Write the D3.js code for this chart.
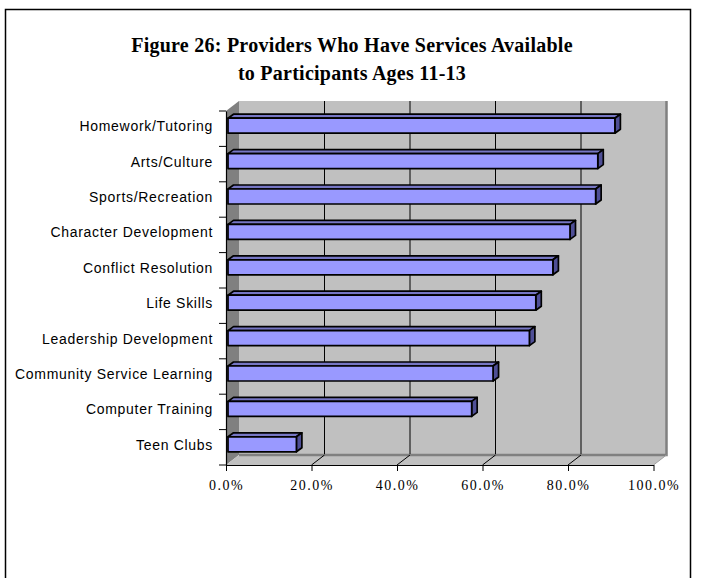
<!DOCTYPE html>
<html>
<head>
<meta charset="utf-8">
<script src="https://cdn.jsdelivr.net/npm/d3@7"></script>
<style>
  html, body { margin: 0; padding: 0; background: #fff; }
  svg { display: block; }
</style>
</head>
<body>
<svg id="chart" width="703" height="578"></svg>
<script>
// Survey results: share of providers offering each service to ages 11-13
const categories = [
  "Homework/Tutoring",
  "Arts/Culture",
  "Sports/Recreation",
  "Character Development",
  "Conflict Resolution",
  "Life Skills",
  "Leadership Development",
  "Community Service Learning",
  "Computer Training",
  "Teen Clubs"
];
const values = [90.5, 86.5, 86.0, 80.0, 76.0, 72.0, 70.5, 62.0, 57.0, 16.0];
const xTicks = [0, 20, 40, 60, 80, 100];
const titleLines = [
  "Figure 26: Providers Who Have Services Available",
  "to Participants Ages 11-13"
];

const svg = d3.select("#chart");

// chart frame
svg.append("rect")
  .attr("x", 5.5).attr("y", 9.5)
  .attr("width", 685).attr("height", 620)
  .attr("fill", "#fff").attr("stroke", "#000").attr("stroke-width", 1.5);

// title
svg.append("g").selectAll("text")
  .data(titleLines)
  .join("text")
  .attr("x", 352)
  .attr("y", (d, i) => 52 + i * 28)
  .attr("text-anchor", "middle")
  .attr("font-family", "'Liberation Serif', 'Times New Roman', serif")
  .attr("font-weight", "bold")
  .attr("font-size", 20)
  .attr("letter-spacing", 0.25)
  .text(d => d);

// 3-D plot geometry: front plane plus a receding depth offset
const x = d3.scaleLinear().domain([0, 100]).range([226, 653.5]);
const y = d3.scaleBand().domain(categories).range([111, 465]);
const DX = 13, DY = 10;        // wall depth
const BX = 2, BY = -3;         // bar front plane offset
const BDX = 5.5, BDY = 4;      // bar depth
const barH = 15;

const [yTop, yBot] = y.range();
const x0 = x(0), x1 = x(100);

const walls = svg.append("g");
// side wall
walls.append("polygon")
  .attr("points", [[x0, yTop], [x0 + DX, yTop - DY], [x0 + DX, yBot - DY], [x0, yBot]].join(" "))
  .attr("fill", "#808080");
// back wall
walls.append("rect")
  .attr("x", x0 + DX).attr("y", yTop - DY)
  .attr("width", x1 - x0).attr("height", yBot - yTop)
  .attr("fill", "#c0c0c0");
// floor
walls.append("polygon")
  .attr("points", [[x0, yBot], [x0 + DX, yBot - DY], [x1 + DX, yBot - DY], [x1, yBot]].join(" "))
  .attr("fill", "#c0c0c0");
// wall edges
walls.append("path")
  .attr("d", `M${x0 + DX},${yBot - DY}H${x1 + DX}V${yTop - DY}`)
  .attr("fill", "none").attr("stroke", "#808080").attr("stroke-width", 2.5);
walls.append("path")
  .attr("d", `M${x1},${yBot}L${x1 + DX},${yBot - DY}`)
  .attr("fill", "none").attr("stroke", "#a0a0a0").attr("stroke-width", 1);

// gridlines on back wall and floor
const grid = svg.append("g").attr("stroke", "#000").attr("stroke-width", 1);
grid.selectAll("line.back")
  .data(xTicks.filter(d => d > 0 && d < 100))
  .join("line").attr("class", "back")
  .attr("x1", d => x(d) + DX).attr("x2", d => x(d) + DX)
  .attr("y1", yTop - DY).attr("y2", yBot - DY - 1);
grid.selectAll("line.floor")
  .data(xTicks.filter(d => d > 0 && d < 100))
  .join("line").attr("class", "floor")
  .attr("x1", d => x(d)).attr("x2", d => x(d) + DX)
  .attr("y1", yBot).attr("y2", yBot - DY);

// bars
const bars = svg.append("g").attr("stroke", "#000").attr("stroke-width", 1.7).attr("stroke-linejoin", "round");
categories.forEach((c, i) => {
  const v = values[i];
  const xa = x(0) + BX, xb = x(v) + BX;
  const yc = y(c) + y.bandwidth() / 2 + BY;
  const yt = yc - barH / 2, yb = yc + barH / 2;
  const g = bars.append("g");
  g.append("polygon")
    .attr("points", [[xa, yt], [xa + BDX, yt - BDY], [xb + BDX, yt - BDY], [xb, yt]].join(" "))
    .attr("fill", "#7676c4");
  g.append("polygon")
    .attr("points", [[xb, yt], [xb + BDX, yt - BDY], [xb + BDX, yb - BDY], [xb, yb]].join(" "))
    .attr("fill", "#4f4f96");
  g.append("rect")
    .attr("x", xa).attr("y", yt)
    .attr("width", xb - xa).attr("height", barH)
    .attr("fill", "#9999ff");
});

// value axis
const xAxis = d3.axisBottom(x)
  .tickValues(xTicks)
  .tickFormat(d => d.toFixed(1) + "%")
  .tickSizeInner(6).tickSizeOuter(0).tickPadding(9);
const gx = svg.append("g").attr("transform", `translate(0,${yBot})`).call(xAxis);
gx.select(".domain").attr("stroke", "#000").attr("stroke-width", 1.2);
gx.selectAll(".tick line").attr("stroke", "#000");
gx.selectAll("text")
  .attr("font-family", "'Liberation Serif', 'Times New Roman', serif")
  .attr("font-size", 14)
  .attr("letter-spacing", 1.5)
  .attr("fill", "#000");

// category axis: labels at band centres, ticks at band boundaries
const yAxis = d3.axisLeft(y).tickSize(0).tickPadding(13);
const gy = svg.append("g").attr("transform", `translate(${x0},0)`).call(yAxis);
gy.select(".domain").attr("stroke", "#000").attr("stroke-width", 1.2);
gy.selectAll(".tick").attr("transform", d => `translate(0,${y(d) + y.bandwidth() / 2 - 2})`);
gy.selectAll("text")
  .attr("font-family", "'Liberation Sans', Arial, sans-serif")
  .attr("font-size", 14)
  .attr("letter-spacing", 0.7)
  .attr("fill", "#000");
const bounds = categories.map(c => y(c)).concat([yBot]);
gy.selectAll("line.bound")
  .data(bounds)
  .join("line").attr("class", "bound")
  .attr("x1", -7).attr("x2", 0)
  .attr("y1", d => d).attr("y2", d => d)
  .attr("stroke", "#000").attr("stroke-width", 1);
</script>
</body>
</html>
